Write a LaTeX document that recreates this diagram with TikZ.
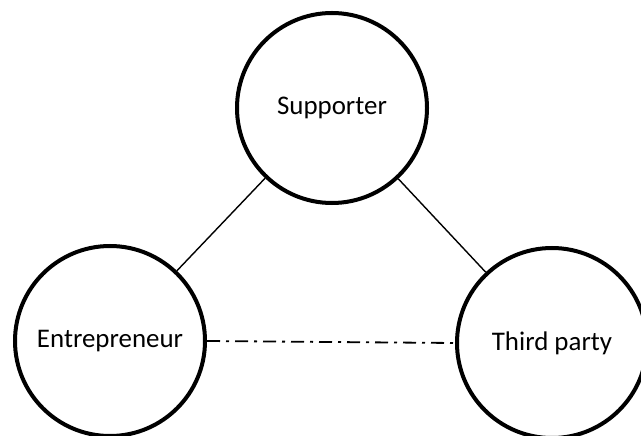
\documentclass[tikz,border=0pt]{standalone}
\usepackage{fontspec}
\setmainfont{Carlito}
\begin{document}
\begin{tikzpicture}[x=1bp,y=-1bp,
  actor/.style={circle,draw=black,line width=4bp,minimum size=190bp,inner sep=0pt,
    font=\fontsize{27}{31}\selectfont},
  link/.style={line width=1.4bp,black},
  dashlink/.style={line width=1.8bp,black,dash pattern=on 13bp off 6bp on 3bp off 6bp}]
\useasboundingbox (0,0) rectangle (641,436);
\node[actor] (sup) at (332,108) {Supporter};
\node[actor] (ent) at (110,341) {Entrepreneur};
\node[actor] (tp) at (552,343) {Third party};
\draw[link] (sup) -- (ent);
\draw[link] (sup) -- (tp);
\draw[dashlink] (ent.east) -- (tp.west);
\end{tikzpicture}
\end{document}
